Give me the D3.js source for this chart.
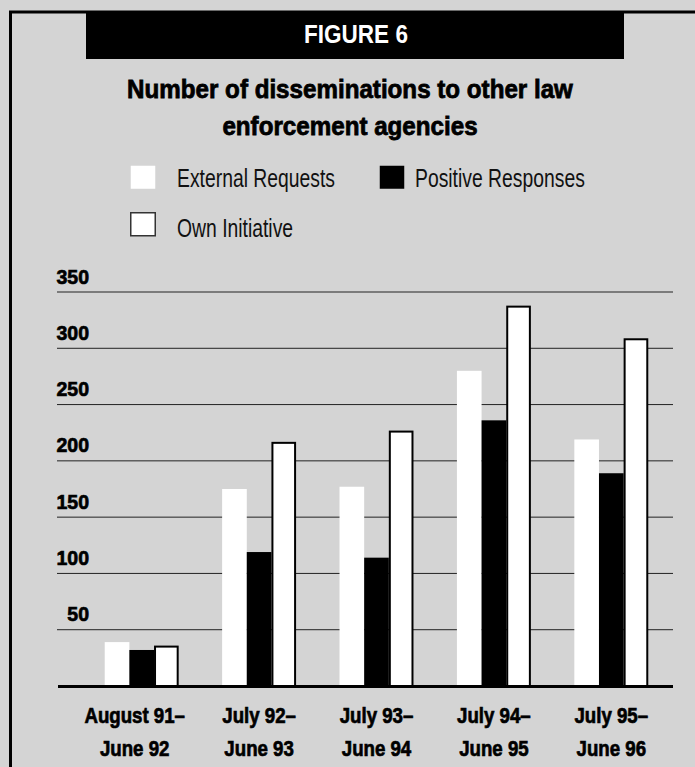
<!DOCTYPE html>
<html>
<head>
<meta charset="utf-8">
<script src="https://cdn.jsdelivr.net/npm/d3@7"></script>
<style>
  body { margin: 0; background: #d4d4d4; }
  svg { display: block; }
  text { font-family: "Liberation Sans", Arial, sans-serif; }
</style>
</head>
<body>
<script>
// data
const periods = [
  ["August 91–", "June 92"],
  ["July 92–", "June 93"],
  ["July 93–", "June 94"],
  ["July 94–", "June 95"],
  ["July 95–", "June 96"],
];
const seriesNames = ["External Requests", "Positive Responses", "Own Initiative"];
const externalRequests = [39, 175, 177, 280, 219];
const positiveResponses = [32, 119, 114, 236, 189];
const ownInitiative = [35, 216, 226, 337, 308];
const yTicks = [50, 100, 150, 200, 250, 300, 350];

const width = 695,
  height = 767;

const svg = d3
  .select("body")
  .append("svg")
  .attr("width", width)
  .attr("height", height);

svg
  .append("rect")
  .attr("width", width)
  .attr("height", height)
  .attr("fill", "#d4d4d4");

// the original uses a heavy condensed face, so squeeze text horizontally
function label(parent, str, x, y, size, k, opts = {}) {
  return parent
    .append("text")
    .text(str)
    .attr("transform", `translate(${x},${y}) scale(${k},1)`)
    .attr("font-size", size)
    .attr("font-weight", opts.weight || "normal")
    .attr("text-anchor", opts.anchor || "start")
    .attr("fill", opts.fill || "black")
    .attr("stroke", opts.heavy ? opts.fill || "black" : "none")
    .attr("stroke-width", opts.heavy || 0);
}

// frame: top and left rule
svg
  .append("path")
  .attr("d", "M10.5,767 V12 H695")
  .attr("fill", "none")
  .attr("stroke", "black")
  .attr("stroke-width", 3);

// header bar
svg
  .append("rect")
  .attr("x", 86)
  .attr("y", 13)
  .attr("width", 538)
  .attr("height", 46)
  .attr("fill", "black");

label(svg, "FIGURE 6", 356, 43, 26.5, 0.85, {
  anchor: "middle",
  weight: "bold",
  fill: "white",
});

label(svg, "Number of disseminations to other law", 350, 98, 26, 0.93, {
  anchor: "middle",
  weight: "bold",
  heavy: 0.8,
});
label(svg, "enforcement agencies", 350, 135, 26, 0.93, {
  anchor: "middle",
  weight: "bold",
  heavy: 0.8,
});

// legend
const legendItems = [
  { name: seriesNames[0], x: 130, y: 165, tx: 177, ty: 187, fill: "white", stroke: "none" },
  { name: seriesNames[1], x: 379, y: 165, tx: 415, ty: 187, fill: "black", stroke: "none" },
  { name: seriesNames[2], x: 130, y: 212, tx: 177, ty: 237, fill: "white", stroke: "#333" },
];
legendItems.forEach((d) => {
  svg
    .append("rect")
    .attr("x", d.x + 0.75)
    .attr("y", d.y + 0.75)
    .attr("width", 24.5)
    .attr("height", 23)
    .attr("fill", d.fill)
    .attr("stroke", d.stroke)
    .attr("stroke-width", 1.5);
  label(svg, d.name, d.tx, d.ty, 26.5, 0.73, { fill: "#111" });
});

// scales
const y = d3.scaleLinear().domain([0, 350]).range([686, 292]);
const x0 = d3
  .scaleBand()
  .domain(d3.range(periods.length))
  .range([83, 670])
  .paddingInner(0.37)
  .paddingOuter(0.185);
const x1 = d3
  .scaleBand()
  .domain(d3.range(3))
  .range([0, x0.bandwidth()]);

const plotLeft = 57,
  plotRight = 673;

// gridlines
svg
  .selectAll(".grid")
  .data(yTicks)
  .enter()
  .append("line")
  .attr("class", "grid")
  .attr("x1", plotLeft)
  .attr("x2", plotRight)
  .attr("y1", (d) => y(d))
  .attr("y2", (d) => y(d))
  .attr("stroke", "#222")
  .attr("stroke-width", 1);

yTicks.forEach((t) => {
  label(svg, t, 89, y(t) - 8.5, 21, 0.93, { anchor: "end", weight: "bold", heavy: 0.7 });
});

// bars
const rows = periods.map((p, i) => [
  externalRequests[i],
  positiveResponses[i],
  ownInitiative[i],
]);
const barStyle = [
  { fill: "white", stroke: "none" },
  { fill: "black", stroke: "none" },
  { fill: "white", stroke: "black" },
];

const groups = svg
  .selectAll(".group")
  .data(rows)
  .enter()
  .append("g")
  .attr("class", "group")
  .attr("transform", (d, i) => `translate(${x0(i)},0)`);

groups
  .selectAll("rect")
  .data((d) => d)
  .enter()
  .append("rect")
  .attr("x", (d, j) => x1(j) + (j === 2 ? 1 : 0))
  .attr("width", (d, j) => x1.bandwidth() - (j === 2 ? 2 : 0))
  .attr("y", (d) => y(d))
  .attr("height", (d) => y(0) - y(d))
  .attr("fill", (d, j) => barStyle[j].fill)
  .attr("stroke", (d, j) => barStyle[j].stroke)
  .attr("stroke-width", 2);

// baseline
svg
  .append("line")
  .attr("x1", plotLeft + 1)
  .attr("x2", plotRight)
  .attr("y1", y(0) + 0.5)
  .attr("y2", y(0) + 0.5)
  .attr("stroke", "black")
  .attr("stroke-width", 3);

// category labels (the first one sits a little left of its bars)
periods.forEach((p, i) => {
  const cx = x0(i) + x0.bandwidth() / 2 - (i === 0 ? 7 : 0);
  label(svg, p[0], cx, 723, 22.5, 0.83, { anchor: "middle", weight: "bold", heavy: 0.7 });
  label(svg, p[1], cx, 756, 22.5, 0.83, { anchor: "middle", weight: "bold", heavy: 0.7 });
});
</script>
</body>
</html>
